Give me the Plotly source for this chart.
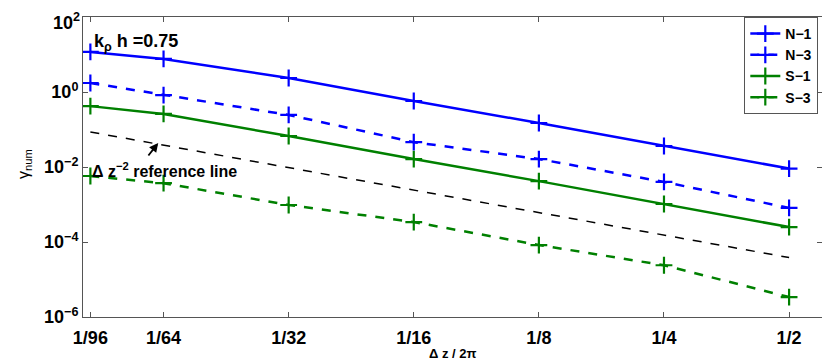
import math
import plotly.graph_objects as go

# grid spacing (Δz / 2π)
dz = [1/96, 1/64, 1/32, 1/16, 1/8, 1/4, 1/2]
dz_labels = ["1/96", "1/64", "1/32", "1/16", "1/8", "1/4", "1/2"]

# growth rates
n1 = [11.7, 7.6, 2.36, 0.575, 0.149, 0.0363, 0.0091]
n3 = [1.74, 0.83, 0.244, 0.046, 0.0163, 0.0040, 0.00081]
s1 = [0.42, 0.26, 0.067, 0.0163, 0.0042, 0.00103, 0.00025]
s3 = [0.00575, 0.0037, 0.00097, 0.00034, 0.000083, 0.000024, 0.0000034]

# Δz^-2 reference line end points
ref_x = [1/96, 1/2]
ref_y = [0.0858, 0.0000385]

y_ticks = [1e2, 1e0, 1e-2, 1e-4, 1e-6]
y_labels = ["10<sup>2</sup>", "10<sup>0</sup>", "10<sup>−2</sup>",
            "10<sup>−4</sup>", "10<sup>−6</sup>"]

BLUE = "rgb(0,0,255)"
GREEN = "rgb(0,128,0)"

fig = go.Figure()

series = [
    ("N−1", n1, BLUE, "solid"),
    ("N−3", n3, BLUE, "dash"),
    ("S−1", s1, GREEN, "solid"),
    ("S−3", s3, GREEN, "dash"),
]
for name, vals, color, dash in series:
    fig.add_trace(go.Scatter(
        x=dz, y=vals, name=name,
        mode="lines+markers",
        line=dict(color=color, width=2.5, dash=dash),
        marker=dict(symbol="cross-thin", size=12,
                    line=dict(color=color, width=2.2)),
    ))

fig.add_trace(go.Scatter(
    x=ref_x, y=ref_y, mode="lines", showlegend=False,
    line=dict(color="black", width=1.5, dash="dash"),
))

# the page body adds an 8px margin, so the figure is 8px smaller
fig.update_layout(
    width=822, height=353,
    margin=dict(l=75, r=8, t=9, b=44),
    plot_bgcolor="white",
    paper_bgcolor="white",
    font=dict(family="Liberation Sans, Arial, sans-serif", size=14, color="black"),
    legend=dict(
        x=0.995, y=1, xanchor="right", yanchor="top",
        bordercolor="#555", borderwidth=1,
        bgcolor="white",
        font=dict(size=14, weight="bold"),
        tracegroupgap=0, itemwidth=30,
    ),
    showlegend=True,
)

fig.update_xaxes(
    type="log", automargin=False,
    range=[math.log10(0.01), math.log10(0.6)],
    tickvals=dz, ticktext=dz_labels,
    tickfont=dict(size=18, weight="bold"),
    ticklabelstandoff=4,
    ticks="inside", ticklen=5, tickcolor="#555",
    showline=True, linecolor="#555", linewidth=1, mirror="ticks",
    showgrid=False, zeroline=False,
)
# top label (10^2) is drawn as an annotation so its exponent is not clipped
fig.update_yaxes(
    type="log", automargin=False,
    range=[-6, 2],
    tickvals=y_ticks, ticktext=[""] + y_labels[1:],
    tickfont=dict(size=18, weight="bold"),
    ticks="inside", ticklen=5, tickcolor="#555",
    showline=True, linecolor="#555", linewidth=1, mirror="ticks",
    showgrid=False, zeroline=False,
)
fig.add_annotation(
    x=0, y=1 + 9 / 300, xref="paper", yref="paper",
    text=y_labels[0], showarrow=False,
    xanchor="right", yanchor="top", xshift=-1,
    font=dict(size=18, weight="bold"),
)

# axis titles
fig.add_annotation(
    x=0.5, y=-0.12, xref="paper", yref="paper",
    text="Δ z / 2π", showarrow=False,
    xanchor="center", yanchor="middle",
    font=dict(size=13, weight="bold"),
)
fig.add_annotation(
    x=-0.08, y=0.51, xref="paper", yref="paper",
    text="γ<sub>num</sub>", showarrow=False, textangle=-90,
    xanchor="center", yanchor="middle",
    font=dict(size=16),
)

fig.add_annotation(
    x=math.log10(0.0105), y=1.33, xref="x", yref="y",
    text="k<sub>ρ</sub> h =0.75", showarrow=False,
    xanchor="left", yanchor="middle",
    font=dict(size=18, weight="bold"),
)
fig.add_annotation(
    x=math.log10(0.0104), y=-2.08, xref="x", yref="y",
    text="Δ z<sup>−2</sup> reference line", showarrow=False,
    xanchor="left", yanchor="middle",
    font=dict(size=16, weight="bold"),
)
fig.add_annotation(
    x=math.log10(0.01517), y=-1.36, xref="x", yref="y",
    ax=-11, ay=14, text="", showarrow=True,
    arrowhead=2, arrowsize=1, arrowwidth=1.8, arrowcolor="black",
)

fig.write_html("out.html")
